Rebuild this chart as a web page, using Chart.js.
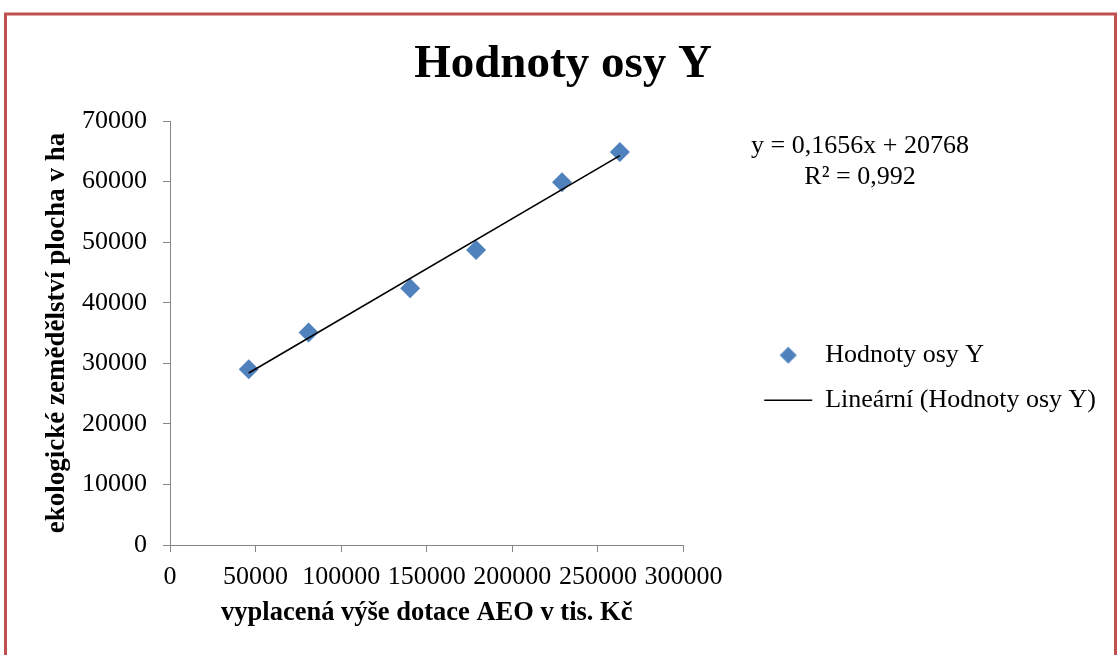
<!DOCTYPE html>
<html>
<head>
<meta charset="utf-8">
<script src="https://cdn.jsdelivr.net/npm/chart.js@4.4.1/dist/chart.umd.min.js"></script>
<style>
  html, body { margin: 0; padding: 0; background: #ffffff; }
  #wrap { position: relative; width: 1118px; height: 655px; }
</style>
</head>
<body>
<div id="wrap"><canvas id="c"></canvas></div>
<script>
// ---- data ----
const dotaceX = [46000, 81000, 140300, 178800, 229000, 262800];   // vyplacená výše dotace AEO v tis. Kč
const plochaY = [29000, 35100, 42400, 48700, 59900, 64900];      // ekologické zemědělství plocha v ha
const trendX = [46000, 262800];
const trendY = [28400, 64280];
const xTicks = [0, 50000, 100000, 150000, 200000, 250000, 300000];
const yTicks = [0, 10000, 20000, 30000, 40000, 50000, 60000, 70000];
const chartTitle = 'Hodnoty osy Y';
const seriesName = 'Hodnoty osy Y';
const trendName = 'Lineární (Hodnoty osy Y)';
const equationLines = ['y = 0,1656x + 20768', 'R² = 0,992'];
const xTitle = 'vyplacená výše dotace AEO v tis. Kč';
const yTitle = 'ekologické zemědělství plocha v ha';

const FONT = "'Liberation Serif', 'Times New Roman', serif";
const BLUE = '#4F81BD';
const AXIS = '#868686';

const scatterPts = dotaceX.map((x, i) => ({ x: x, y: plochaY[i] }));
const trendPts = trendX.map((x, i) => ({ x: x, y: trendY[i] }));

// legend diamond marker
const diamond = document.createElement('canvas');
diamond.width = 18; diamond.height = 18;
(function () {
  const g = diamond.getContext('2d');
  g.fillStyle = BLUE;
  g.beginPath();
  g.moveTo(9, 0.5); g.lineTo(17.5, 9); g.lineTo(9, 17.5); g.lineTo(0.5, 9);
  g.closePath(); g.fill();
})();

const framePlugin = {
  id: 'frame',
  beforeDraw(chart) {
    const ctx = chart.ctx;
    ctx.save();
    ctx.fillStyle = '#ffffff';
    ctx.fillRect(0, 0, chart.width, chart.height);
    ctx.strokeStyle = '#C0504D';
    ctx.lineWidth = 3;
    ctx.strokeRect(5.5, 14, 1110, 700);
    ctx.restore();
  }
};

const equationPlugin = {
  id: 'equation',
  afterDraw(chart) {
    const ctx = chart.ctx;
    const a = chart.chartArea;
    ctx.save();
    ctx.font = '26px ' + FONT;
    ctx.fillStyle = '#000000';
    ctx.textAlign = 'center';
    ctx.textBaseline = 'middle';
    const cx = a.right + 176.5;
    ctx.fillText(equationLines[0], cx, a.top + 25);
    ctx.fillText(equationLines[1], cx, a.top + 56);
    ctx.restore();
  }
};

new Chart(document.getElementById('c'), {
  type: 'scatter',
  data: {
    datasets: [
      {
        label: seriesName,
        data: scatterPts,
        backgroundColor: BLUE,
        borderColor: BLUE,
        pointStyle: 'rectRot',
        pointRadius: 10,
        pointHoverRadius: 10,
        borderWidth: 0,
        order: 1
      },
      {
        label: trendName,
        type: 'line',
        data: trendPts,
        borderColor: '#000000',
        backgroundColor: '#000000',
        borderWidth: 1.6,
        pointRadius: 0,
        pointHoverRadius: 0,
        pointStyle: 'line',
        pointBorderWidth: 1.6,
        fill: false,
        order: 0
      }
    ]
  },
  options: {
    responsive: true,
    maintainAspectRatio: false,
    animation: false,
    events: [],
    layout: { padding: { left: 20, right: 12, top: 0, bottom: 0 } },
    plugins: {
      tooltip: { enabled: false },
      title: {
        display: true,
        text: chartTitle,
        color: '#000000',
        font: { family: FONT, size: 47, weight: 'bold', lineHeight: 1.2 },
        padding: { top: 37, bottom: 27.6 }
      },
      legend: {
        display: true,
        position: 'right',
        align: 'start',
        fullSize: false,
        maxWidth: 420,
        title: { display: true, text: '', padding: { top: 171, bottom: 0 }, font: { family: FONT, size: 26, lineHeight: 1.2 } },
        labels: {
          color: '#000000',
          font: { family: FONT, size: 26 },
          padding: 19,
          usePointStyle: true,
          pointStyleWidth: 48,
          sort: (a, b) => a.datasetIndex - b.datasetIndex,
          generateLabels(chart) {
            const items = Chart.defaults.plugins.legend.labels.generateLabels(chart);
            items.forEach(it => {
              if (it.datasetIndex === 0) it.pointStyle = diamond;
              if (it.datasetIndex === 1) { it.lineWidth = 1.6; it.strokeStyle = '#000000'; }
            });
            return items;
          }
        }
      }
    },
    scales: {
      x: {
        type: 'linear',
        position: 'bottom',
        min: 0,
        max: 300000,
        afterBuildTicks(s) { s.ticks = xTicks.map(v => ({ value: v })); },
        afterFit(s) { s.height = 110; },
        grid: { display: true, drawOnChartArea: false, drawTicks: true, tickLength: 7, color: AXIS, lineWidth: 1 },
        border: { display: true, color: AXIS, width: 1 },
        ticks: {
          color: '#000000',
          font: { family: FONT, size: 26 },
          padding: 10,
          maxRotation: 0,
          autoSkip: false,
          callback: v => String(v)
        },
        title: {
          display: true,
          text: xTitle,
          color: '#000000',
          font: { family: FONT, size: 26.5, weight: 'bold', lineHeight: 1.2 },
          padding: { top: 0, bottom: 26 }
        }
      },
      y: {
        type: 'linear',
        position: 'left',
        min: 0,
        max: 70000,
        afterBuildTicks(s) { s.ticks = yTicks.map(v => ({ value: v })); },
        afterFit(s) { s.width = 150; },
        grid: { display: true, drawOnChartArea: false, drawTicks: true, tickLength: 7, color: AXIS, lineWidth: 1 },
        border: { display: true, color: AXIS, width: 1 },
        ticks: {
          color: '#000000',
          font: { family: FONT, size: 26 },
          padding: 16,
          autoSkip: false,
          callback: v => String(v)
        },
        title: {
          display: true,
          text: yTitle,
          color: '#000000',
          font: { family: FONT, size: 27, weight: 'bold', lineHeight: 1.2 },
          padding: { top: 21, bottom: 0 }
        }
      },
      yPad: {
        type: 'linear',
        position: 'right',
        display: true,
        afterFit(s) { s.width = 61.7; },
        grid: { display: false, drawTicks: false },
        border: { display: false },
        ticks: { display: false }
      }
    }
  },
  plugins: [framePlugin, equationPlugin]
});
</script>
</body>
</html>
